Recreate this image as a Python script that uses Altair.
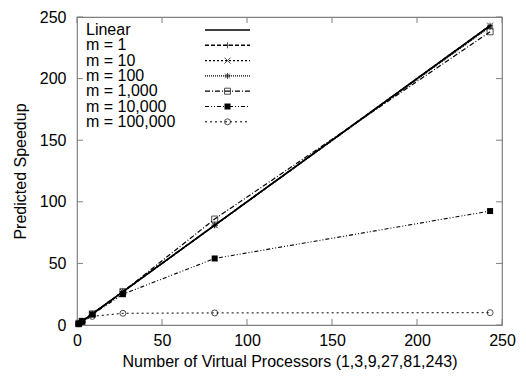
import altair as alt
import pandas as pd

series_names = ["Linear", "m = 1", "m = 10", "m = 100", "m = 1,000", "m = 10,000", "m = 100,000"]
processors = [1, 3, 9, 27, 81, 243]
linear = [1, 3, 9, 27, 81, 243]
m1 = [1, 3, 9, 27, 81, 243]
m10 = [1, 3, 9, 27, 81, 243]
m100 = [1, 3, 9, 27, 81, 242]
m1000 = [1, 3, 9, 27, 86, 238]
m10000 = [1, 3, 8.5, 25, 54, 92.5]
m100000 = [1, 2.8, 7, 9.5, 9.8, 10]

x_ticks = [0, 50, 100, 150, 200, 250]
y_ticks = [0, 50, 100, 150, 200, 250]

values = [linear, m1, m10, m100, m1000, m10000, m100000]
rows = []
for name, vals in zip(series_names, values):
    for xv, yv in zip(processors, vals):
        rows.append({"series": name, "x": xv, "y": yv})
df = pd.DataFrame(rows)

leg = pd.DataFrame({"series": series_names, "row": list(range(len(series_names)))})

W, H = 425, 308
FONT = "Liberation Sans"
FS = 16
FRAME = "#808080"

dash_range = [[1, 0], [4, 2], [2, 2], [1, 1], [5, 2, 1, 2], [4, 2, 1, 2, 1, 2], [2, 3]]
width_range = [1.6, 1, 1, 1, 1, 1, 1]
shape_range = [
    "circle",
    "M-1,0L1,0M0,-1L0,1",
    "M-1,-1L1,1M-1,1L1,-1",
    "M-1,0L1,0M0,-1L0,1M-0.8,-0.8L0.8,0.8M-0.8,0.8L0.8,-0.8",
    "square",
    "square",
    "circle",
]
dash_scale = alt.Scale(domain=series_names, range=dash_range)
width_scale = alt.Scale(domain=series_names, range=width_range)
shape_scale = alt.Scale(domain=series_names, range=shape_range)

xs = alt.Scale(domain=[0, 250], nice=False, zero=False)
ys = alt.Scale(domain=[0, 250], nice=False, zero=False)

x_enc = alt.X("x:Q", scale=xs, axis=alt.Axis(
    values=x_ticks, domain=False, ticks=False, grid=False, labelFont=FONT, labelFontSize=FS,
    labelColor="black", labelPadding=7, labelFlush=False, labelOverlap=False,
    title="Number of Virtual Processors (1,3,9,27,81,243)",
    titleFont=FONT, titleFontSize=FS, titleFontWeight="normal", titleColor="black",
    titleX=W / 2, titleY=36, titleBaseline="middle", titleAlign="center"))
y_enc = alt.Y("y:Q", scale=ys, axis=alt.Axis(
    values=y_ticks, domain=False, ticks=False, grid=False, labelFont=FONT, labelFontSize=FS,
    labelColor="black", labelPadding=11, labelFlush=False, labelOverlap=False,
    title="Predicted Speedup",
    titleFont=FONT, titleFontSize=FS, titleFontWeight="normal", titleColor="black",
    titleX=-57, titleY=H / 2, titleBaseline="middle", titleAlign="center", titleAngle=270))

lines = alt.Chart(df).mark_line(color="black").encode(
    x=x_enc, y=y_enc,
    detail="series:N",
    strokeDash=alt.StrokeDash("series:N", scale=dash_scale, legend=None),
    strokeWidth=alt.StrokeWidth("series:N", scale=width_scale, legend=None),
)

open_pts = alt.Chart(df).transform_filter(
    alt.FieldOneOfPredicate(field="series", oneOf=["m = 1", "m = 10", "m = 100", "m = 1,000", "m = 100,000"])
).mark_point(color="black", filled=False, size=36, strokeWidth=1).encode(
    x=alt.X("x:Q", scale=xs), y=alt.Y("y:Q", scale=ys),
    shape=alt.Shape("series:N", scale=shape_scale, legend=None),
)
filled_pts = alt.Chart(df).transform_filter(
    alt.FieldEqualPredicate(field="series", equal="m = 10,000")
).mark_point(color="black", filled=True, size=36, opacity=1).encode(
    x=alt.X("x:Q", scale=xs), y=alt.Y("y:Q", scale=ys),
    shape=alt.Shape("series:N", scale=shape_scale, legend=None),
)

# inward ticks on all four sides
tdf = pd.DataFrame({"t": x_ticks})
tdy = pd.DataFrame({"t": y_ticks})
bt = alt.Chart(tdf).mark_rule(color=FRAME).encode(x=alt.X("t:Q", scale=xs), y=alt.value(H), y2=alt.value(H - 6))
tt = alt.Chart(tdf).mark_rule(color=FRAME).encode(x=alt.X("t:Q", scale=xs), y=alt.value(0), y2=alt.value(6))
lt = alt.Chart(tdy).mark_rule(color=FRAME).encode(y=alt.Y("t:Q", scale=ys), x=alt.value(0), x2=alt.value(6))
rt = alt.Chart(tdy).mark_rule(color=FRAME).encode(y=alt.Y("t:Q", scale=ys), x=alt.value(W), x2=alt.value(W - 6))

# legend inside plot
legbase = alt.Chart(leg).transform_calculate(py="13 + datum.row * 15.3")
leg_text = legbase.mark_text(align="left", baseline="middle", font=FONT, fontSize=FS, color="black").encode(
    x=alt.value(9), y=alt.Y("py:Q", scale=None), text="series:N")
leg_rule = legbase.mark_rule(color="black").encode(
    x=alt.value(128), x2=alt.value(173), y=alt.Y("py:Q", scale=None),
    strokeDash=alt.StrokeDash("series:N", scale=dash_scale, legend=None),
    strokeWidth=alt.StrokeWidth("series:N", scale=width_scale, legend=None))
leg_open = legbase.transform_filter(
    alt.FieldOneOfPredicate(field="series", oneOf=["m = 1", "m = 10", "m = 100", "m = 1,000"])
).mark_point(color="black", filled=False, size=36, strokeWidth=1).encode(
    x=alt.value(150.5), y=alt.Y("py:Q", scale=None),
    shape=alt.Shape("series:N", scale=shape_scale, legend=None))
leg_fill = legbase.transform_filter(
    alt.FieldEqualPredicate(field="series", equal="m = 10,000")
).mark_point(color="black", filled=True, size=36, opacity=1).encode(
    x=alt.value(150.5), y=alt.Y("py:Q", scale=None),
    shape=alt.Shape("series:N", scale=shape_scale, legend=None))
leg_circ = legbase.transform_filter(
    alt.FieldEqualPredicate(field="series", equal="m = 100,000")
).mark_point(color="black", filled=False, size=36, strokeWidth=1).encode(
    x=alt.value(150.5), y=alt.Y("py:Q", scale=None),
    shape=alt.Shape("series:N", scale=shape_scale, legend=None))

chart = alt.layer(
    bt, tt, lt, rt, lines, open_pts, filled_pts, leg_rule, leg_open, leg_fill, leg_circ, leg_text
).properties(
    width=W, height=H,
    autosize=alt.AutoSizeParams(type="none"),
    padding={"left": 69, "top": 9, "right": 16, "bottom": 47},
    background="white",
).configure_view(stroke=FRAME, strokeWidth=1.2)

chart.save("out.html", embed_options={"renderer": "svg", "actions": False})
